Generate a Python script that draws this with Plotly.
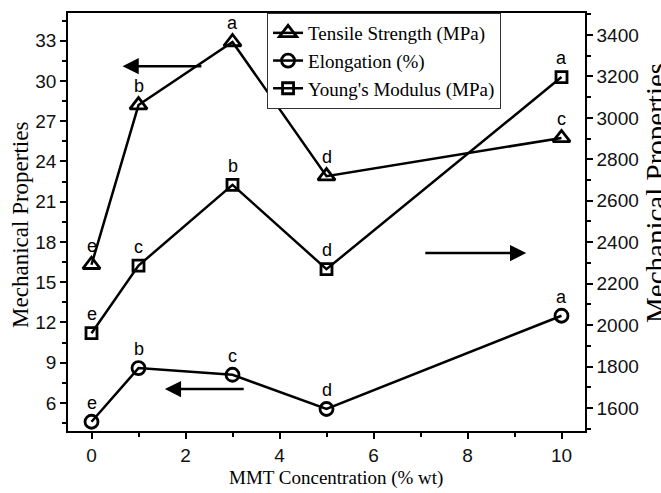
import plotly.graph_objects as go

conc = [0, 1, 3, 5, 10]
tensile = [16.3, 28.2, 32.9, 22.9, 25.75]
elong = [4.6, 8.6, 8.1, 5.55, 12.5]
young = [1961, 2287, 2677, 2270, 3197]
tensile_letters = ["e", "b", "a", "d", "c"]
elong_letters = ["e", "b", "c", "d", "a"]
young_letters = ["e", "c", "b", "d", "a"]

# arrows (data units, left axis): [x_tail, x_head, y]
arrows = [[2.37, 0.66, 31.1], [3.27, 1.56, 7.04], [7.07, 9.25, 17.17]]

SANS = "Liberation Sans, Arial, sans-serif"
SERIF = "Liberation Serif, Times New Roman, serif"

fig = go.Figure()
line = dict(color="black", width=2.5)
fig.add_trace(go.Scatter(x=conc, y=tensile, mode="lines+markers", name="Tensile Strength (MPa)",
                         line=line, marker=dict(symbol="triangle-up-open", size=15, color="black",
                                                line=dict(width=2.8, color="black"))))
fig.add_trace(go.Scatter(x=conc, y=elong, mode="lines+markers", name="Elongation (%)",
                         line=line, marker=dict(symbol="circle-open", size=13, color="black",
                                                line=dict(width=2.8, color="black"))))
fig.add_trace(go.Scatter(x=conc, y=young, mode="lines+markers", name="Young's Modulus (MPa)",
                         yaxis="y2", line=line,
                         marker=dict(symbol="square-open", size=11, color="black",
                                     line=dict(width=2.8, color="black"))))

anns = []
for xs, ys, ls, yref in [(conc, tensile, tensile_letters, "y"), (conc, elong, elong_letters, "y"),
                         (conc, young, young_letters, "y2")]:
    for xv, yv, lv in zip(xs, ys, ls):
        anns.append(dict(x=xv, y=yv, xref="x", yref=yref, text=lv, showarrow=False, yshift=19,
                         font=dict(family=SANS, size=18, color="black")))

for xt, xh, yv in arrows:
    anns.append(dict(x=xh, y=yv, ax=xt, ay=yv, xref="x", yref="y", axref="x", ayref="y",
                     text="", showarrow=True, arrowhead=2, arrowsize=1.3, arrowwidth=2.5,
                     arrowcolor="black"))

anns.append(dict(text="Mechanical Properties", xref="paper", yref="paper", x=-0.091, y=0.493,
                 textangle=-90, showarrow=False, xanchor="center", yanchor="middle",
                 font=dict(family=SERIF, size=23, color="black")))
anns.append(dict(text="Mechanical Properties", xref="paper", yref="paper", x=1.137, y=0.569,
                 textangle=-90, showarrow=False, xanchor="center", yanchor="middle",
                 font=dict(family=SERIF, size=29, color="black")))
anns.append(dict(text="MMT Concentration (% wt)", xref="paper", yref="paper", x=0.518, y=-0.112,
                 showarrow=False, xanchor="center", yanchor="middle",
                 font=dict(family=SERIF, size=19, color="black")))

tickfont = dict(family=SANS, size=19, color="#111")
fig.update_layout(
    width=661, height=493,
    margin=dict(l=68, r=76, t=13, b=62),
    paper_bgcolor="white", plot_bgcolor="white",
    showlegend=True,
    legend=dict(x=0.385, y=1, xanchor="left", yanchor="top", bgcolor="white",
                bordercolor="#333", borderwidth=1,
                font=dict(family=SERIF, size=19, color="black"), tracegroupgap=0),
    xaxis=dict(range=[-0.5, 10.5], tickvals=[0, 2, 4, 6, 8, 10], ticks="outside", ticklen=6,
               tickwidth=1.5, tickcolor="black", showline=True, linecolor="black", linewidth=1.5,
               mirror=True, showgrid=False, zeroline=False, tickfont=tickfont,
               minor=dict(dtick=1, tick0=1, ticks="outside", ticklen=4, tickwidth=1.5, tickcolor="black")),
    yaxis=dict(range=[3.91, 35.06], tickvals=[6, 9, 12, 15, 18, 21, 24, 27, 30, 33], ticks="outside",
               ticklen=6, tickwidth=1.5, tickcolor="black", showline=True, linecolor="black",
               linewidth=1.5, showgrid=False, zeroline=False, tickfont=tickfont,
               minor=dict(dtick=1.5, tick0=4.5, ticks="outside", ticklen=4, tickwidth=1.5, tickcolor="black")),
    yaxis2=dict(range=[1489, 3506], overlaying="y", side="right",
                tickvals=[1600, 1800, 2000, 2200, 2400, 2600, 2800, 3000, 3200, 3400],
                ticks="outside", ticklen=6, tickwidth=1.5, tickcolor="black", showline=True,
                linecolor="black", linewidth=1.5, showgrid=False, zeroline=False, tickfont=tickfont,
                minor=dict(dtick=100, tick0=1500, ticks="outside", ticklen=4, tickwidth=1.5, tickcolor="black")),
    annotations=anns,
)
fig.write_html("out.html", config={"displayModeBar": False},
               post_script="document.body.style.margin='0';document.body.style.overflow='hidden';")
